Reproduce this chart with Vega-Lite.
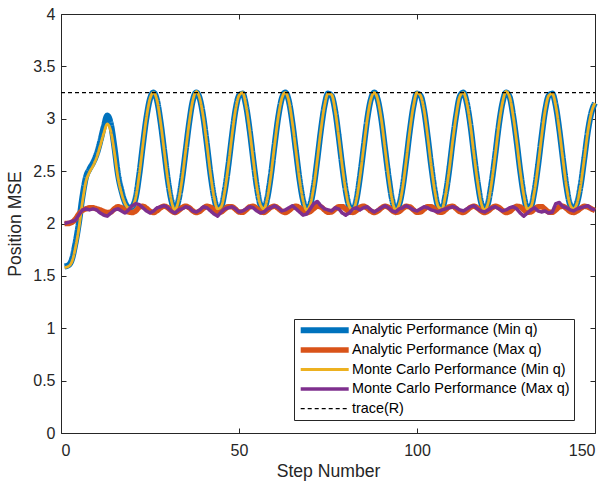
{
  "$schema": "https://vega.github.io/schema/vega-lite/v6.json",
  "width": 534,
  "height": 419,
  "autosize": {"type": "none"},
  "padding": {"left": 61, "top": 14, "right": 11, "bottom": 56},
  "config": {
    "font": "Liberation Sans",
    "view": {"stroke": null},
    "axis": {
      "grid": false,
      "domainColor": "#262626",
      "domainWidth": 1,
      "tickColor": "#262626",
      "tickWidth": 1,
      "tickSize": -5,
      "labelColor": "#262626",
      "titleColor": "#262626",
      "labelFontSize": 16,
      "titleFontSize": 17.6,
      "titleFontWeight": "normal",
      "labelPadding": 11
    },
    "legend": {
      "orient": "none",
      "legendX": 233,
      "legendY": 305,
      "symbolType": "M-12,0H12",
      "symbolSize": 16,
      "symbolOffset": 19.5,
      "clipHeight": 14.6,
      "labelFontSize": 14.4,
      "labelColor": "#000000",
      "labelOffset": 20,
      "labelLimit": 400,
      "strokeColor": "#262626",
      "fillColor": "#ffffff",
      "padding": 4,
      "rowPadding": 3.6
    }
  },
  "resolve": {"axis": {"x": "independent", "y": "independent"}},
  "data": {"values": [
    {"s":1,"a":1.59,"b":2.0,"c":1.58,"d":2.0},
    {"s":2,"a":1.6,"b":2.0,"c":1.59,"d":2.01},
    {"s":3,"a":1.65,"b":2.01,"c":1.63,"d":2.02},
    {"s":4,"a":1.8,"b":2.04,"c":1.76,"d":2.03},
    {"s":5,"a":2.0,"b":2.09,"c":1.95,"d":2.08},
    {"s":6,"a":2.25,"b":2.125,"c":2.2,"d":2.13},
    {"s":7,"a":2.44,"b":2.14,"c":2.4,"d":2.14},
    {"s":8,"a":2.52,"b":2.15,"c":2.49,"d":2.13},
    {"s":9,"a":2.58,"b":2.15,"c":2.55,"d":2.14},
    {"s":10,"a":2.66,"b":2.14,"c":2.63,"d":2.13},
    {"s":11,"a":2.78,"b":2.13,"c":2.74,"d":2.1},
    {"s":12,"a":2.92,"b":2.115,"c":2.86,"d":2.08},
    {"s":13,"a":3.03,"b":2.105,"c":2.95,"d":2.07},
    {"s":14,"a":2.95,"b":2.11,"c":2.88,"d":2.1},
    {"s":15,"a":2.73,"b":2.14,"c":2.68,"d":2.13},
    {"s":16,"a":2.47,"b":2.16,"c":2.44,"d":2.14},
    {"s":17,"a":2.31,"b":2.15,"c":2.29,"d":2.12},
    {"s":18,"a":2.2,"b":2.125,"c":2.19,"d":2.1},
    {"s":19,"a":2.15,"b":2.11,"c":2.15,"d":2.13},
    {"s":20,"a":2.16,"b":2.105,"c":2.16,"d":2.17},
    {"s":21,"a":2.25,"b":2.12,"c":2.25,"d":2.19},
    {"s":22,"a":2.47,"b":2.156,"c":2.47,"d":2.18},
    {"s":23,"a":2.75,"b":2.164,"c":2.75,"d":2.15},
    {"s":24,"a":3.01,"b":2.145,"c":3.01,"d":2.12},
    {"s":25,"a":3.19,"b":2.117,"c":3.19,"d":2.1},
    {"s":26,"a":3.25,"b":2.105,"c":3.25,"d":2.12},
    {"s":27,"a":3.17,"b":2.122,"c":3.17,"d":2.15},
    {"s":28,"a":2.96,"b":2.151,"c":2.96,"d":2.16},
    {"s":29,"a":2.69,"b":2.165,"c":2.69,"d":2.17},
    {"s":30,"a":2.42,"b":2.151,"c":2.42,"d":2.15},
    {"s":31,"a":2.22,"b":2.122,"c":2.22,"d":2.12},
    {"s":32,"a":2.13,"b":2.105,"c":2.13,"d":2.1},
    {"s":33,"a":2.22,"b":2.122,"c":2.22,"d":2.13},
    {"s":34,"a":2.42,"b":2.151,"c":2.42,"d":2.14},
    {"s":35,"a":2.69,"b":2.165,"c":2.69,"d":2.16},
    {"s":36,"a":2.96,"b":2.151,"c":2.96,"d":2.15},
    {"s":37,"a":3.17,"b":2.122,"c":3.17,"d":2.12},
    {"s":38,"a":3.25,"b":2.105,"c":3.26,"d":2.11},
    {"s":39,"a":3.19,"b":2.117,"c":3.19,"d":2.13},
    {"s":40,"a":3.01,"b":2.145,"c":3.01,"d":2.16},
    {"s":41,"a":2.75,"b":2.164,"c":2.75,"d":2.15},
    {"s":42,"a":2.47,"b":2.156,"c":2.47,"d":2.12},
    {"s":43,"a":2.25,"b":2.128,"c":2.25,"d":2.09},
    {"s":44,"a":2.14,"b":2.106,"c":2.14,"d":2.07},
    {"s":45,"a":2.16,"b":2.11,"c":2.16,"d":2.11},
    {"s":46,"a":2.31,"b":2.137,"c":2.31,"d":2.14},
    {"s":47,"a":2.55,"b":2.161,"c":2.55,"d":2.15},
    {"s":48,"a":2.83,"b":2.161,"c":2.83,"d":2.16},
    {"s":49,"a":3.08,"b":2.137,"c":3.08,"d":2.14},
    {"s":50,"a":3.22,"b":2.11,"c":3.22,"d":2.11},
    {"s":51,"a":3.24,"b":2.107,"c":3.25,"d":2.12},
    {"s":52,"a":3.12,"b":2.13,"c":3.12,"d":2.14},
    {"s":53,"a":2.89,"b":2.158,"c":2.89,"d":2.16},
    {"s":54,"a":2.61,"b":2.164,"c":2.61,"d":2.15},
    {"s":55,"a":2.35,"b":2.143,"c":2.35,"d":2.12},
    {"s":56,"a":2.18,"b":2.114,"c":2.18,"d":2.1},
    {"s":57,"a":2.14,"b":2.106,"c":2.14,"d":2.11},
    {"s":58,"a":2.25,"b":2.128,"c":2.25,"d":2.14},
    {"s":59,"a":2.47,"b":2.156,"c":2.47,"d":2.15},
    {"s":60,"a":2.75,"b":2.164,"c":2.75,"d":2.17},
    {"s":61,"a":3.01,"b":2.145,"c":3.01,"d":2.15},
    {"s":62,"a":3.19,"b":2.117,"c":3.19,"d":2.12},
    {"s":63,"a":3.25,"b":2.105,"c":3.25,"d":2.13},
    {"s":64,"a":3.17,"b":2.122,"c":3.17,"d":2.15},
    {"s":65,"a":2.96,"b":2.151,"c":2.96,"d":2.17},
    {"s":66,"a":2.69,"b":2.165,"c":2.69,"d":2.14},
    {"s":67,"a":2.42,"b":2.151,"c":2.42,"d":2.11},
    {"s":68,"a":2.22,"b":2.122,"c":2.22,"d":2.08},
    {"s":69,"a":2.13,"b":2.105,"c":2.13,"d":2.09},
    {"s":70,"a":2.18,"b":2.114,"c":2.18,"d":2.14},
    {"s":71,"a":2.35,"b":2.143,"c":2.35,"d":2.19},
    {"s":72,"a":2.61,"b":2.164,"c":2.61,"d":2.21},
    {"s":73,"a":2.89,"b":2.158,"c":2.89,"d":2.17},
    {"s":74,"a":3.12,"b":2.13,"c":3.12,"d":2.14},
    {"s":75,"a":3.24,"b":2.107,"c":3.24,"d":2.13},
    {"s":76,"a":3.22,"b":2.11,"c":3.23,"d":2.12},
    {"s":77,"a":3.08,"b":2.137,"c":3.08,"d":2.15},
    {"s":78,"a":2.83,"b":2.161,"c":2.83,"d":2.14},
    {"s":79,"a":2.55,"b":2.161,"c":2.55,"d":2.1},
    {"s":80,"a":2.31,"b":2.137,"c":2.31,"d":2.08},
    {"s":81,"a":2.16,"b":2.11,"c":2.16,"d":2.1},
    {"s":82,"a":2.13,"b":2.106,"c":2.13,"d":2.14},
    {"s":83,"a":2.23,"b":2.125,"c":2.23,"d":2.15},
    {"s":84,"a":2.45,"b":2.154,"c":2.45,"d":2.13},
    {"s":85,"a":2.72,"b":2.165,"c":2.72,"d":2.15},
    {"s":86,"a":2.99,"b":2.148,"c":2.99,"d":2.16},
    {"s":87,"a":3.18,"b":2.119,"c":3.18,"d":2.13},
    {"s":88,"a":3.25,"b":2.105,"c":3.25,"d":2.11},
    {"s":89,"a":3.18,"b":2.119,"c":3.18,"d":2.13},
    {"s":90,"a":2.99,"b":2.148,"c":2.99,"d":2.15},
    {"s":91,"a":2.72,"b":2.165,"c":2.72,"d":2.17},
    {"s":92,"a":2.45,"b":2.154,"c":2.45,"d":2.15},
    {"s":93,"a":2.23,"b":2.125,"c":2.23,"d":2.12},
    {"s":94,"a":2.13,"b":2.106,"c":2.13,"d":2.11},
    {"s":95,"a":2.18,"b":2.114,"c":2.18,"d":2.14},
    {"s":96,"a":2.35,"b":2.143,"c":2.35,"d":2.15},
    {"s":97,"a":2.61,"b":2.164,"c":2.61,"d":2.17},
    {"s":98,"a":2.89,"b":2.158,"c":2.89,"d":2.15},
    {"s":99,"a":3.12,"b":2.13,"c":3.12,"d":2.13},
    {"s":100,"a":3.24,"b":2.107,"c":3.25,"d":2.12},
    {"s":101,"a":3.22,"b":2.11,"c":3.22,"d":2.14},
    {"s":102,"a":3.08,"b":2.137,"c":3.08,"d":2.16},
    {"s":103,"a":2.83,"b":2.161,"c":2.83,"d":2.15},
    {"s":104,"a":2.55,"b":2.161,"c":2.55,"d":2.13},
    {"s":105,"a":2.31,"b":2.137,"c":2.31,"d":2.12},
    {"s":106,"a":2.16,"b":2.11,"c":2.16,"d":2.11},
    {"s":107,"a":2.14,"b":2.107,"c":2.14,"d":2.13},
    {"s":108,"a":2.27,"b":2.131,"c":2.27,"d":2.14},
    {"s":109,"a":2.5,"b":2.158,"c":2.5,"d":2.15},
    {"s":110,"a":2.78,"b":2.164,"c":2.78,"d":2.16},
    {"s":111,"a":3.03,"b":2.142,"c":3.03,"d":2.15},
    {"s":112,"a":3.21,"b":2.114,"c":3.21,"d":2.13},
    {"s":113,"a":3.25,"b":2.105,"c":3.25,"d":2.12},
    {"s":114,"a":3.15,"b":2.125,"c":3.15,"d":2.14},
    {"s":115,"a":2.94,"b":2.153,"c":2.94,"d":2.16},
    {"s":116,"a":2.66,"b":2.165,"c":2.66,"d":2.17},
    {"s":117,"a":2.4,"b":2.148,"c":2.4,"d":2.14},
    {"s":118,"a":2.2,"b":2.119,"c":2.2,"d":2.12},
    {"s":119,"a":2.13,"b":2.105,"c":2.13,"d":2.11},
    {"s":120,"a":2.2,"b":2.119,"c":2.2,"d":2.13},
    {"s":121,"a":2.4,"b":2.148,"c":2.4,"d":2.15},
    {"s":122,"a":2.66,"b":2.165,"c":2.66,"d":2.16},
    {"s":123,"a":2.94,"b":2.153,"c":2.94,"d":2.14},
    {"s":124,"a":3.15,"b":2.125,"c":3.15,"d":2.12},
    {"s":125,"a":3.25,"b":2.105,"c":3.26,"d":2.13},
    {"s":126,"a":3.21,"b":2.114,"c":3.21,"d":2.15},
    {"s":127,"a":3.03,"b":2.142,"c":3.03,"d":2.16},
    {"s":128,"a":2.78,"b":2.164,"c":2.78,"d":2.14},
    {"s":129,"a":2.5,"b":2.158,"c":2.5,"d":2.1},
    {"s":130,"a":2.27,"b":2.131,"c":2.27,"d":2.07},
    {"s":131,"a":2.14,"b":2.107,"c":2.14,"d":2.1},
    {"s":132,"a":2.16,"b":2.11,"c":2.16,"d":2.13},
    {"s":133,"a":2.31,"b":2.137,"c":2.31,"d":2.15},
    {"s":134,"a":2.55,"b":2.161,"c":2.55,"d":2.12},
    {"s":135,"a":2.83,"b":2.161,"c":2.83,"d":2.11},
    {"s":136,"a":3.08,"b":2.137,"c":3.08,"d":2.12},
    {"s":137,"a":3.22,"b":2.11,"c":3.22,"d":2.1},
    {"s":138,"a":3.24,"b":2.107,"c":3.24,"d":2.11},
    {"s":139,"a":3.12,"b":2.13,"c":3.12,"d":2.19},
    {"s":140,"a":2.89,"b":2.158,"c":2.89,"d":2.2},
    {"s":141,"a":2.61,"b":2.164,"c":2.61,"d":2.16},
    {"s":142,"a":2.35,"b":2.143,"c":2.35,"d":2.15},
    {"s":143,"a":2.18,"b":2.114,"c":2.18,"d":2.13},
    {"s":144,"a":2.14,"b":2.105,"c":2.14,"d":2.12},
    {"s":145,"a":2.2,"b":2.12,"c":2.2,"d":2.14},
    {"s":146,"a":2.37,"b":2.145,"c":2.37,"d":2.15},
    {"s":147,"a":2.62,"b":2.164,"c":2.62,"d":2.16},
    {"s":148,"a":2.88,"b":2.158,"c":2.88,"d":2.17},
    {"s":149,"a":3.06,"b":2.14,"c":3.06,"d":2.14},
    {"s":150,"a":3.15,"b":2.125,"c":3.15,"d":2.13}
  ]},
  "encoding": {
    "x": {"field": "s", "type": "quantitative", "scale": {"domain": [0, 150], "nice": false}},
    "y": {"field": "value", "type": "quantitative", "scale": {"domain": [0, 4], "nice": false}},
    "color": {
      "field": "series", "type": "nominal",
      "scale": {"domain": ["a", "b", "c", "d", "t"], "range": ["#0072BD", "#D95319", "#EDB120", "#7E2F8E", "#000000"]},
      "legend": {
        "title": null,
        "labelExpr": "{'a': 'Analytic Performance (Min q)', 'b': 'Analytic Performance (Max q)', 'c': 'Monte Carlo Performance (Min q)', 'd': 'Monte Carlo Performance (Max q)', 't': 'trace(R)'}[datum.value]"
      }
    },
    "strokeWidth": {
      "field": "series", "type": "nominal",
      "scale": {"type": "ordinal", "domain": ["a", "b", "c", "d", "t"], "range": [6, 5.5, 2.8, 3.5, 1.3]},
      "legend": {
        "title": null,
        "labelExpr": "{'a': 'Analytic Performance (Min q)', 'b': 'Analytic Performance (Max q)', 'c': 'Monte Carlo Performance (Min q)', 'd': 'Monte Carlo Performance (Max q)', 't': 'trace(R)'}[datum.value]"
      }
    },
    "strokeDash": {
      "field": "series", "type": "nominal",
      "scale": {"domain": ["a", "b", "c", "d", "t"], "range": [[1, 0], [1, 0], [1, 0], [1, 0], [4, 3]]},
      "legend": {
        "title": null,
        "labelExpr": "{'a': 'Analytic Performance (Min q)', 'b': 'Analytic Performance (Max q)', 'c': 'Monte Carlo Performance (Min q)', 'd': 'Monte Carlo Performance (Max q)', 't': 'trace(R)'}[datum.value]"
      }
    }
  },
  "layer": [
    {
      "transform": [{"fold": ["a"], "as": ["series", "value"]}],
      "mark": {"type": "line", "interpolate": "monotone", "strokeJoin": "round"},
      "encoding": {
        "x": {"field": "s", "type": "quantitative", "axis": {"orient": "bottom", "values": [0, 50, 100, 150], "title": "Step Number", "titlePadding": 4, "labelPadding": 14}},
        "y": {"field": "value", "type": "quantitative", "axis": {"orient": "left", "values": [0, 0.5, 1, 1.5, 2, 2.5, 3, 3.5, 4], "format": "~g", "title": "Position MSE", "titlePadding": 8}}
      }
    },
    {
      "transform": [{"fold": ["b"], "as": ["series", "value"]}],
      "mark": {"type": "line", "interpolate": "monotone", "strokeJoin": "round"},
      "encoding": {
        "x": {"field": "s", "type": "quantitative", "axis": null},
        "y": {"field": "value", "type": "quantitative", "axis": null}
      }
    },
    {
      "transform": [{"fold": ["c"], "as": ["series", "value"]}],
      "mark": {"type": "line", "interpolate": "monotone", "strokeJoin": "round"},
      "encoding": {
        "x": {"field": "s", "type": "quantitative", "axis": null},
        "y": {"field": "value", "type": "quantitative", "axis": null}
      }
    },
    {
      "transform": [{"fold": ["d"], "as": ["series", "value"]}],
      "mark": {"type": "line", "strokeJoin": "round"},
      "encoding": {
        "x": {"field": "s", "type": "quantitative", "axis": null},
        "y": {"field": "value", "type": "quantitative", "axis": null}
      }
    },
    {
      "data": {"values": [
        {"s": 0, "value": 3.25, "series": "t"},
        {"s": 150, "value": 3.25, "series": "t"}
      ]},
      "mark": {"type": "line"},
      "encoding": {
        "x": {"field": "s", "type": "quantitative", "axis": {"orient": "top", "values": [0, 50, 100, 150], "labels": false, "title": null}},
        "y": {"field": "value", "type": "quantitative", "axis": {"orient": "right", "values": [0, 0.5, 1, 1.5, 2, 2.5, 3, 3.5, 4], "labels": false, "title": null}}
      }
    }
  ]
}
